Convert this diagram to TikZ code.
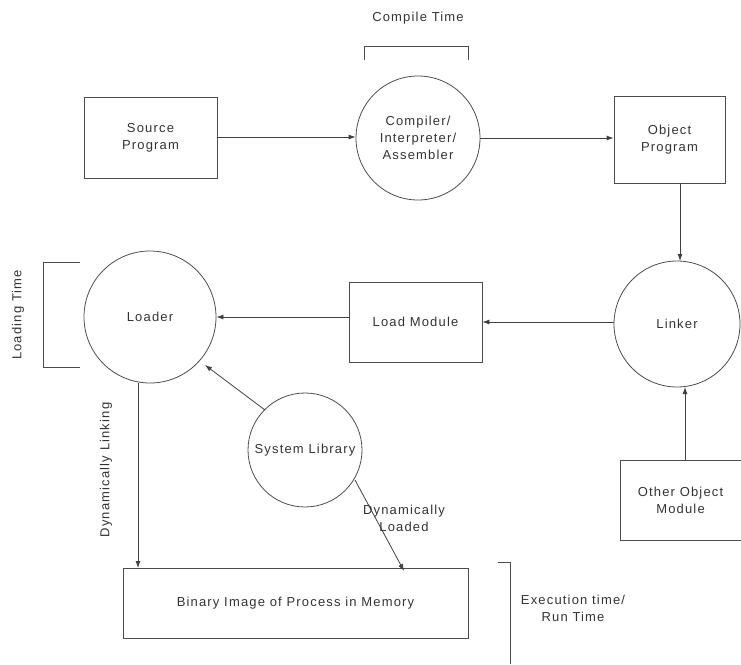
\documentclass[tikz,border=0pt]{standalone}
\usepackage{fontspec}
\setmainfont{Liberation Sans}[LetterSpace=9]
\usetikzlibrary{arrows.meta}
\begin{document}
\begin{tikzpicture}[x=1pt,y=-1pt,
  every node/.style={font=\fontsize{13}{17}\selectfont, text=black!80, align=center},
  boxn/.style={draw=black!70, line width=0.8pt, minimum width=#1, inner sep=0pt},
  circn/.style={draw=black!70, line width=0.8pt, circle, minimum size=#1, inner sep=0pt},
  conn/.style={draw=black!75, line width=0.8pt, -{Latex[length=7pt,width=5pt]}},
  brk/.style={draw=black!70, line width=0.9pt},
  lbl/.style={font=\fontsize{13}{17}\selectfont, text=black!80, align=center}]
\useasboundingbox (0,0) rectangle (741,664);
% nodes
\node[boxn=133pt, minimum height=81pt] (src) at (150.5,137.5) {Source\\Program};
\node[circn=124pt] (comp) at (418,138) {Compiler/\\Interpreter/\\Assembler};
\node[boxn=111pt, minimum height=87pt] (obj) at (669.5,139.5) {Object\\Program};
\node[circn=126pt] (link) at (677,324) {Linker};
\node[boxn=133pt, minimum height=80pt] (lm) at (415.5,322) {Load Module};
\node[circn=132pt] (load) at (150,317) {Loader};
\node[circn=114pt] (sys) at (305,450) {System Library};
\node[boxn=345pt, minimum height=70pt] (bin) at (295.5,603) {Binary Image of Process in Memory};
\node[boxn=121pt, minimum height=80pt] (other) at (680.5,500) {Other Object\\Module};
% coordinates for connector ends
\coordinate (sysA) at (265,410);
\coordinate (loadA) at (205,365);
\coordinate (loadB) at (138,383);
\coordinate (binA) at (138,568);
\coordinate (sysB) at (355,480);
\coordinate (binB) at (404,571);
\coordinate (objB) at (680,183);
\coordinate (linkA) at (680,261);
\coordinate (othA) at (685,460);
\coordinate (linkB) at (685,387);
% connectors
\draw[conn] (src.east |- 0,137) -- (comp.west |- 0,137);
\draw[conn] (comp.east |- 0,138) -- (obj.west |- 0,138);
\draw[conn] (objB) -- (linkA);
\draw[conn] (link.west |- 0,322) -- (lm.east |- 0,322);
\draw[conn] (lm.west |- 0,317) -- (load.east |- 0,317);
\draw[conn] (sysA) -- (loadA);
\draw[conn] (loadB) -- (binA);
\draw[conn] (sysB) -- (binB);
\draw[conn] (othA) -- (linkB);
% brackets and labels
\node[lbl] (ct) at (418,18) {Compile Time};
\draw[brk] (364,60) -- (364,46) -- (468,46) -- (468,60);
\draw[brk] (80,262) -- (43,262) -- (43,367) -- (80,367);
\node[lbl, rotate=90] (lt) at (18,315) {Loading Time};
\node[lbl, rotate=90] (dl) at (106,470) {Dynamically Linking};
\node[lbl] (dld) at (404,518) {Dynamically\\Loaded};
\draw[brk] (498,562) -- (510,562) -- (510,664);
\node[lbl] (et) at (573,608) {Execution time/\\Run Time};
\end{tikzpicture}
\end{document}
